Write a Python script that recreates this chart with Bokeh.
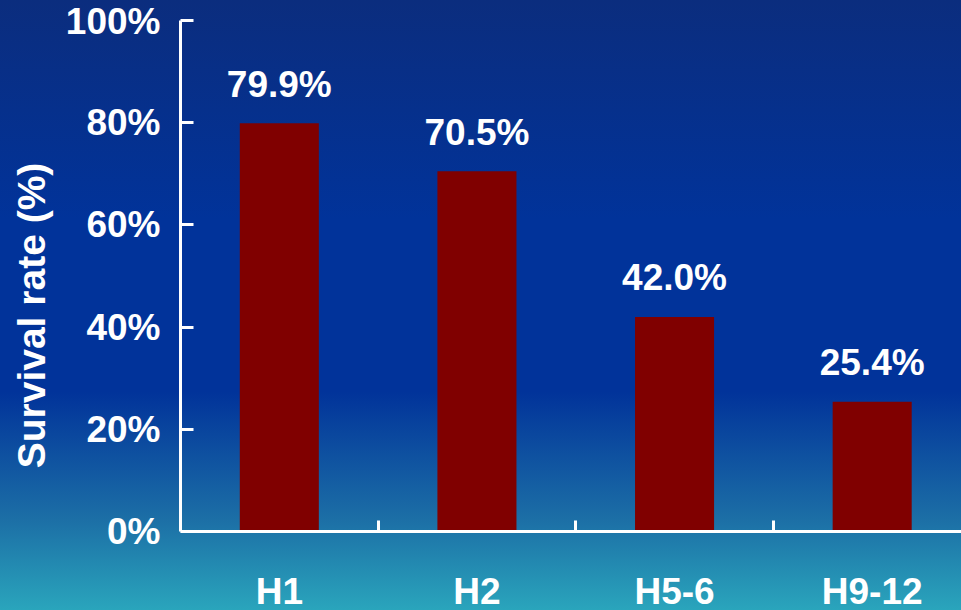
from bokeh.plotting import figure
from bokeh.models import Range1d, FixedTicker, PrintfTickFormatter, ColumnDataSource
from bokeh.core.properties import value
from bokeh.embed import file_html
from bokeh.resources import INLINE

# ---- data ----
categories = ["H1", "H2", "H5-6", "H9-12"]
survival = [79.9, 70.5, 42.0, 25.4]
y_ticks = [0, 20, 40, 60, 80, 100]

FONT = "Liberation Sans"

# layout (pixels): frame top at 20, value 0 at 531, canvas bottom at 610
TOP, ZERO, H = 20, 531, 610
y_start = -100.0 * (H - ZERO) / (ZERO - TOP)

xpos = [i + 0.5 for i in range(len(categories))]
labels = [f"{v:.1f}%" for v in survival]
src = ColumnDataSource(dict(x=xpos, top=survival, label=labels))

p = figure(width=961, height=H, output_backend="svg", toolbar_location=None,
           x_range=Range1d(0, 3.952), y_range=Range1d(y_start, 100),
           min_border_left=180, min_border_right=0, min_border_top=TOP, min_border_bottom=0)

p.styles = {"background-image": "linear-gradient(to bottom, #0b2d7e 0px, #01339a 220px, #01339a 392px, #1c6fa6 520px, #2aa5bc 610px)"}
p.background_fill_color = None
p.border_fill_color = None
p.outline_line_color = None
p.grid.visible = False

p.vbar(x="x", top="top", bottom=0, width=0.4, source=src, fill_color="#800000", line_color=None)

p.text(x="x", y="top", text="label", source=src, text_align="center", text_baseline="alphabetic",
       y_offset=-39, text_color="white", text_font=value(FONT), text_font_style="bold",
       text_font_size="37px")

# y axis
ya = p.yaxis[0]
ya.bounds = (0, 100)
ya.ticker = FixedTicker(ticks=y_ticks)
ya.formatter = PrintfTickFormatter(format="%d%%")
ya.axis_line_color = "white"
ya.axis_line_width = 3
ya.major_tick_line_color = "white"
ya.major_tick_line_width = 3
ya.major_tick_in = 13
ya.major_tick_out = 0
ya.minor_tick_line_color = None
ya.major_label_text_color = "white"
ya.major_label_text_font = FONT
ya.major_label_text_font_style = "bold"
ya.major_label_text_font_size = "37px"
ya.major_label_standoff = 20
ya.axis_label = "Survival rate (%)"
ya.axis_label_text_color = "white"
ya.axis_label_text_font = FONT
ya.axis_label_text_font_style = "bold"
ya.axis_label_text_font_size = "39px"
ya.axis_label_standoff = 10

# x axis drawn at value 0
xa = p.xaxis[0]
xa.fixed_location = 0
xa.ticker = FixedTicker(ticks=xpos, minor_ticks=[i + 1 for i in range(len(categories) - 1)])
xa.major_label_overrides = {x: c for x, c in zip(xpos, categories)}
xa.axis_line_color = "white"
xa.axis_line_width = 3
xa.major_tick_line_color = None
xa.major_tick_in = 0
xa.major_tick_out = 0
xa.minor_tick_line_color = "white"
xa.minor_tick_line_width = 3
xa.minor_tick_in = 11
xa.minor_tick_out = 0
xa.major_label_text_color = "white"
xa.major_label_text_font = FONT
xa.major_label_text_font_style = "bold"
xa.major_label_text_font_size = "37px"
xa.major_label_standoff = 39

open("out.html", "w").write(file_html(p, INLINE))
